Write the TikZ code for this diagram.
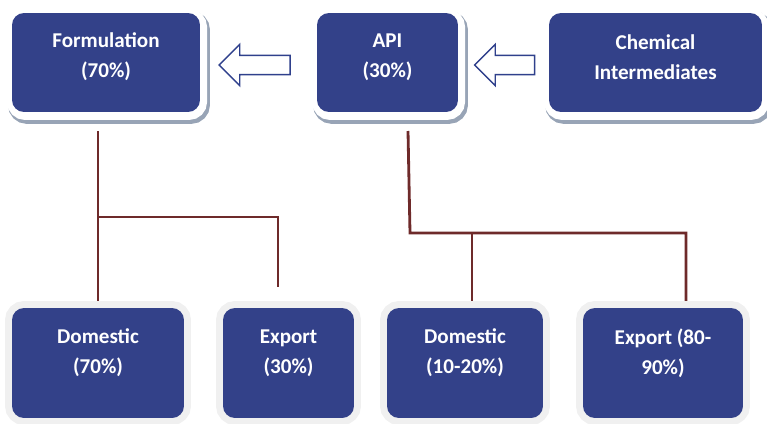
\documentclass[tikz,border=0pt]{standalone}
\usepackage{fontspec}
\setmainfont{Carlito}
\usetikzlibrary{shapes.arrows, backgrounds}

\definecolor{boxblue}{RGB}{51,65,137}
\definecolor{arrowblue}{RGB}{47,64,140}
\definecolor{linkred}{RGB}{110,42,42}
\definecolor{shadowgray}{RGB}{152,164,182}
\definecolor{framegray}{RGB}{240,240,240}

\tikzset{
  topbox/.style={rectangle, rounded corners=6.8pt, fill=boxblue, inner sep=0pt, minimum height=1.98cm,
    preaction={draw=shadowgray, line width=7.9pt, transform canvas={shift={(1.7pt,-2.8pt)}}},
    preaction={draw=white, line width=6.8pt, transform canvas={shift={(0.6pt,-1.1pt)}}}},
  lowbox/.style={rectangle, rounded corners=6.8pt, fill=boxblue, inner sep=0pt, minimum height=2.2cm,
    preaction={draw=framegray, line width=7.9pt}},
  boxtext/.style={text=white, font=\fontsize{12}{17}\selectfont\bfseries, align=center},
  hollowarrow/.style={single arrow, shape border rotate=180, draw=arrowblue, fill=white, line width=0.8pt,
    inner xsep=0pt, inner ysep=5.1pt, single arrow head extend=6.2pt},
  link/.style={draw=linkred, line width=1.6pt}
}

\begin{document}
\begin{tikzpicture}[x=0.02cm, y=-0.02cm]
\useasboundingbox (0,0) rectangle (767,423);
%\draw[step=50,gray,very thin] (0,0) grid (767,423); %background grid

% top row
\node[topbox, minimum width=3.76cm] (form) at (106,62.5) {};
\node[topbox, minimum width=2.82cm] (api)  at (387.5,62.5) {};
\node[topbox, minimum width=4.26cm] (chem) at (655.5,62.5) {};
\node[boxtext] (formtxt) at (106,57) {Formulation\\(70\%)};
\node[boxtext] (apitxt)  at (387.5,57) {API\\(30\%)};
\node[boxtext] (chemtxt) at (655.5,57) {Chemical\\Intermediates};

\node[hollowarrow, minimum height=1.42cm] (arr1) at (259.5,65) {};
\node[hollowarrow, minimum height=1.2cm]  (arr2) at (509.5,65) {};

% bottom row
\node[lowbox, minimum width=3.44cm] (dom1) at (98,363) {};
\node[lowbox, minimum width=2.62cm] (exp1) at (288.5,363) {};
\node[lowbox, minimum width=3.12cm] (dom2) at (465,363) {};
\node[lowbox, minimum width=3.2cm]  (exp2) at (663,363) {};
\node[boxtext] (dom1txt) at (98,353) {Domestic\\(70\%)};
\node[boxtext] (exp1txt) at (288.5,353) {Export\\(30\%)};
\node[boxtext] (dom2txt) at (465,353) {Domestic\\(10-20\%)};
\node[boxtext] (exp2txt) at (663,353) {Export (80-\\90\%)};

% links
\coordinate (formout)   at (98,131);
\coordinate (formsplit) at (98,217);
\coordinate (exp1split) at (278,217);
\coordinate (exp1end)   at (278,287);
\coordinate (apiout)    at (408,131);
\coordinate (apisplit)  at (410,233);
\coordinate (dom2split) at (472,233);
\coordinate (exp2split) at (686,233);

\begin{scope}[on background layer]
\draw[link] (formout) -- (dom1.north);
\draw[link] (formsplit) -- (exp1split) -- (exp1end);
\draw[link] (apiout) -- (apisplit) -- (exp2split) -- (exp2split |- exp2.north);
\draw[link] (dom2split) -- (dom2split |- dom2.north);
\end{scope}

\end{tikzpicture}
\end{document}
